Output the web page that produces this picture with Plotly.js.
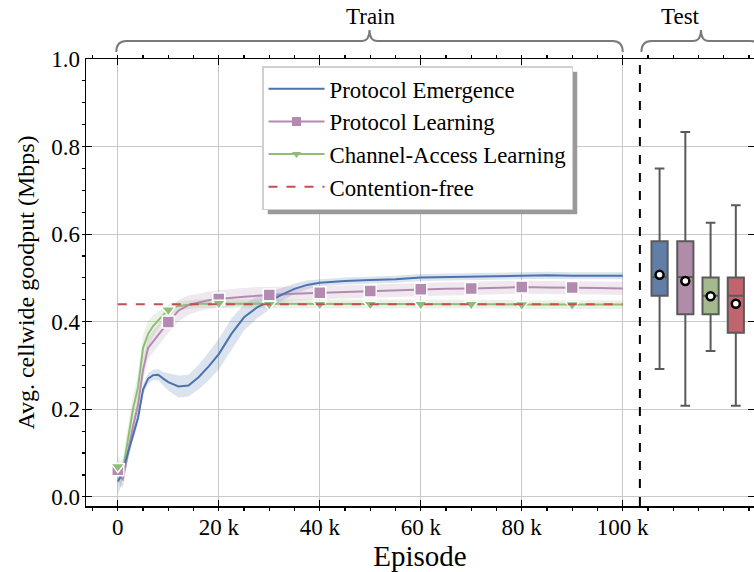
<!DOCTYPE html>
<html>
<head>
<meta charset="utf-8">
<script src="https://cdn.plot.ly/plotly-3.0.1.min.js"></script>
<style>html,body{margin:0;padding:0;background:#fff;}#chart{width:754px;height:572px;}</style>
</head>
<body>
<div id="chart"></div>
<script>
// ---- data ----
const episodes = [0, 500, 1000, 2000, 3000, 4000, 5000, 6000, 7000, 8000, 9000, 10000, 12000, 14000, 16000, 18000, 20000, 22500, 25000, 27500, 30000, 32500, 35000, 37500, 40000, 45000, 50000, 55000, 60000, 65000, 70000, 75000, 80000, 85000, 90000, 95000, 100000];
const emergenceMean = [0.035, 0.045, 0.06, 0.10, 0.14, 0.18, 0.245, 0.27, 0.278, 0.279, 0.27, 0.262, 0.252, 0.254, 0.273, 0.298, 0.326, 0.372, 0.410, 0.432, 0.447, 0.462, 0.475, 0.484, 0.489, 0.493, 0.495, 0.497, 0.501, 0.502, 0.502, 0.503, 0.504, 0.506, 0.505, 0.505, 0.505];
const emergenceStd  = [0.03, 0.025, 0.02, 0.015, 0.012, 0.012, 0.012, 0.012, 0.012, 0.013, 0.015, 0.02, 0.025, 0.025, 0.028, 0.032, 0.035, 0.035, 0.03, 0.025, 0.02, 0.015, 0.012, 0.01, 0.008, 0.008, 0.008, 0.008, 0.008, 0.008, 0.008, 0.008, 0.008, 0.008, 0.008, 0.008, 0.008];
const learningMean  = [0.062, 0.045, 0.04, 0.10, 0.16, 0.21, 0.29, 0.34, 0.355, 0.37, 0.385, 0.399, 0.425, 0.438, 0.444, 0.449, 0.452, 0.455, 0.457, 0.459, 0.461, 0.462, 0.464, 0.465, 0.466, 0.468, 0.470, 0.471, 0.474, 0.475, 0.476, 0.477, 0.479, 0.478, 0.478, 0.477, 0.476];
const learningStd   = [0.02, 0.02, 0.02, 0.02, 0.02, 0.022, 0.025, 0.025, 0.025, 0.025, 0.025, 0.025, 0.025, 0.022, 0.02, 0.02, 0.02, 0.02, 0.02, 0.02, 0.018, 0.018, 0.016, 0.016, 0.015, 0.015, 0.015, 0.015, 0.015, 0.015, 0.015, 0.015, 0.015, 0.015, 0.015, 0.015, 0.015];
const accessMean    = [0.069, 0.05, 0.06, 0.13, 0.20, 0.25, 0.34, 0.372, 0.39, 0.403, 0.416, 0.427, 0.436, 0.439, 0.441, 0.441, 0.442, 0.441, 0.441, 0.440, 0.440, 0.440, 0.440, 0.440, 0.440, 0.440, 0.440, 0.440, 0.440, 0.440, 0.440, 0.440, 0.439, 0.439, 0.439, 0.439, 0.439];
const accessStd     = [0.03, 0.03, 0.03, 0.03, 0.03, 0.03, 0.03, 0.03, 0.025, 0.02, 0.015, 0.012, 0.01, 0.01, 0.01, 0.01, 0.01, 0.01, 0.01, 0.01, 0.01, 0.01, 0.01, 0.01, 0.01, 0.01, 0.01, 0.01, 0.01, 0.01, 0.01, 0.01, 0.01, 0.01, 0.01, 0.01, 0.01];
const markerEpisodes = [0, 10000, 20000, 30000, 40000, 50000, 60000, 70000, 80000, 90000];
const contentionFree = 0.44;
const contentionX = [0, 100000];

// test box plots
const boxNames   = ["Protocol Emergence", "Protocol Learning", "Channel-Access Learning", "Contention-free"];
const boxX       = [107300, 112400, 117400, 122400];
const boxLower   = [0.292, 0.208, 0.333, 0.208];
const boxQ1      = [0.459, 0.417, 0.417, 0.375];
const boxMedian  = [0.502, 0.502, 0.459, 0.459];
const boxQ3      = [0.584, 0.584, 0.501, 0.501];
const boxUpper   = [0.750, 0.833, 0.626, 0.666];
const boxMean    = [0.507, 0.493, 0.458, 0.441];

const xTickVals = [0, 20000, 40000, 60000, 80000, 100000];
const xTickText = ["0", "20 k", "40 k", "60 k", "80 k", "100 k"];
const splitX = 103400;

// ---- style ----
const FONT = "'Liberation Serif', 'Times New Roman', serif";
const cBlue = "#4c72b0", cPink = "#b48bb0", cGreen = "#8fbd78", cRed = "#c44e52";
const boxFill = ["#607ea8", "#b08ca9", "#a3bb8c", "#c0646e"];
const xRange = [-6300, 126000], yRange = [-0.021, 1.0];
const W = 668, H = 447, ML = 86, MT = 59;

function band(x, m, s, color, fill) {
  const up = m.map((v, i) => v + s[i]);
  const lo = m.map((v, i) => v - s[i]);
  return [
    {x: x, y: lo, mode: "lines", line: {width: 0, color: color}, showlegend: false, hoverinfo: "skip"},
    {x: x, y: up, mode: "lines", line: {width: 0, color: color}, fill: "tonexty", fillcolor: fill, showlegend: false, hoverinfo: "skip"}
  ];
}
function pick(arr) { return markerEpisodes.map(e => arr[episodes.indexOf(e)]); }

const traces = [];
traces.push(...band(episodes, emergenceMean, emergenceStd, cBlue, "rgba(76,114,176,0.2)"));
traces.push(...band(episodes, learningMean, learningStd, cPink, "rgba(180,139,176,0.2)"));
traces.push(...band(episodes, accessMean, accessStd, cGreen, "rgba(143,189,120,0.2)"));

traces.push({x: episodes, y: accessMean, mode: "lines", line: {color: cGreen, width: 2}, showlegend: false});
traces.push({x: episodes, y: learningMean, mode: "lines", line: {color: cPink, width: 2}, showlegend: false});
traces.push({x: episodes, y: emergenceMean, mode: "lines", line: {color: cBlue, width: 2}, showlegend: false});
traces.push({x: markerEpisodes, y: pick(learningMean), mode: "markers", marker: {symbol: "square", size: 12, color: cPink, line: {color: "#fff", width: 1.5}}, showlegend: false});
traces.push({x: markerEpisodes, y: pick(accessMean), mode: "markers", marker: {symbol: "triangle-down", size: 12, color: cGreen, line: {color: "#fff", width: 1.5}}, showlegend: false});
traces.push({x: contentionX, y: contentionX.map(() => contentionFree), mode: "lines", line: {color: cRed, width: 2, dash: "dash"}, showlegend: false});

// legend-only traces
traces.push({x: [null], y: [null], name: "Protocol Emergence", mode: "lines", line: {color: cBlue, width: 2}});
traces.push({x: [null], y: [null], name: "Protocol Learning", mode: "lines+markers", line: {color: cPink, width: 2}, marker: {symbol: "square", size: 9, color: cPink}});
traces.push({x: [null], y: [null], name: "Channel-Access Learning", mode: "lines+markers", line: {color: cGreen, width: 2}, marker: {symbol: "triangle-down", size: 8, color: cGreen}});
traces.push({x: [null], y: [null], name: "Contention-free", mode: "lines", line: {color: cRed, width: 2, dash: "dash"}});

for (let i = 0; i < boxX.length; i++) {
  traces.push({type: "box", x: [boxX[i]], q1: [boxQ1[i]], median: [boxMedian[i]], q3: [boxQ3[i]],
    lowerfence: [boxLower[i]], upperfence: [boxUpper[i]], width: 3200, whiskerwidth: 0.6,
    fillcolor: boxFill[i], line: {color: "#5a5a5a", width: 2}, boxpoints: false, showlegend: false, name: boxNames[i]});
}
traces.push({x: boxX, y: boxMean, mode: "markers", marker: {symbol: "circle", size: 8, color: "#fff", line: {color: "#000", width: 2.5}}, showlegend: false});

function toPaperX(v) { return (v - xRange[0]) / (xRange[1] - xRange[0]); }
function brace(d0, d1) {
  const x0 = toPaperX(d0), x1 = toPaperX(d1), xm = (x0 + x1) / 2;
  const yb = 1 + 7 / H, ym = 1 + 18 / H, yt = 1 + 29 / H;
  const d = 10 / W, e = 8 / W;
  return `M ${x0},${yb} Q ${x0},${ym} ${x0 + d},${ym} L ${xm - e},${ym} Q ${xm},${ym} ${xm},${yt} Q ${xm},${ym} ${xm + e},${ym} L ${x1 - d},${ym} Q ${x1},${ym} ${x1},${yb}`;
}

const axisCommon = {
  showline: true, linecolor: "#000", linewidth: 1.5, mirror: "ticks",
  ticks: "inside", ticklen: 6, tickwidth: 1.2, tickcolor: "#000",
  showgrid: true, gridcolor: "#c8c8c8", gridwidth: 1, zeroline: false,
  tickfont: {family: FONT, size: 23, color: "#000"}
};

const layout = {
  width: 754, height: 572,
  margin: {l: ML, r: 0, t: MT, b: 66},
  paper_bgcolor: "#fff", plot_bgcolor: "#fff",
  font: {family: FONT, color: "#000"},
  showlegend: true,
  legend: {x: (262 - ML) / W, y: (506 - 66) / H, xanchor: "left", yanchor: "top", bgcolor: "#fff", bordercolor: "#d0d0d0", borderwidth: 1.5,
    font: {family: FONT, size: 22.8, color: "#000"}, itemwidth: 56, tracegroupgap: 0, traceorder: "normal"},
  xaxis: Object.assign({}, axisCommon, {
    range: xRange, tickmode: "array", tickvals: xTickVals, ticktext: xTickText,
    minor: {tickmode: "linear", tick0: 0, dtick: 5000, ticklen: 3, tickcolor: "#000", showgrid: false},
    title: {text: "Episode", font: {family: FONT, size: 29}, standoff: 2}
  }),
  yaxis: Object.assign({}, axisCommon, {
    range: yRange, tickmode: "linear", tick0: 0, dtick: 0.2, tickformat: ".1f",
    minor: {tickmode: "linear", tick0: 0, dtick: 0.05, ticklen: 3, tickcolor: "#000", showgrid: false},
    title: {text: "Avg. cellwide goodput (Mbps)", font: {family: FONT, size: 24}, standoff: 10}
  }),
  shapes: [
    {type: "line", xref: "x", yref: "paper", x0: splitX, x1: splitX, y0: 0, y1: 1, line: {color: "#000", width: 2, dash: "dash"}},
    {type: "path", xref: "paper", yref: "paper", path: brace(-300, 100000), line: {color: "#7a7a7a", width: 2}},
    {type: "path", xref: "paper", yref: "paper", path: brace(splitX + 300, 127300), line: {color: "#7a7a7a", width: 2}},
    {type: "rect", xref: "paper", yref: "paper", x0: (267 - ML) / W, x1: (592 - ML) / W, y0: (506 - 208) / H, y1: (506 - 75) / H, fillcolor: "#9a9a9a", line: {width: 0}, layer: "above"}
  ],
  annotations: [
    {xref: "paper", yref: "paper", x: toPaperX(50000), y: 1 + (MT - 16) / H, text: "Train", showarrow: false, font: {family: FONT, size: 23}, yanchor: "middle"},
    {xref: "paper", yref: "paper", x: toPaperX(115800), y: 1 + (MT - 16) / H, text: "Test", showarrow: false, font: {family: FONT, size: 23}, yanchor: "middle"}
  ]
};

Plotly.newPlot("chart", traces, layout, {displayModeBar: false, staticPlot: true}).then(gd => {
  // place the legend's drop shadow behind the drawn legend box
  const bg = gd.querySelector(".legend .bg");
  if (!bg) return;
  const r = bg.getBoundingClientRect(), c = gd.getBoundingClientRect();
  const l = r.left - c.left, t = r.top - c.top, rr = r.right - c.left, b = r.bottom - c.top;
  const off = 5;
  Plotly.relayout(gd, {
    "shapes[3].x0": (l + off - ML) / W, "shapes[3].x1": (rr + off - ML) / W,
    "shapes[3].y0": (MT + H - (b + off)) / H, "shapes[3].y1": (MT + H - (t + off)) / H
  });
});
</script>
</body>
</html>
